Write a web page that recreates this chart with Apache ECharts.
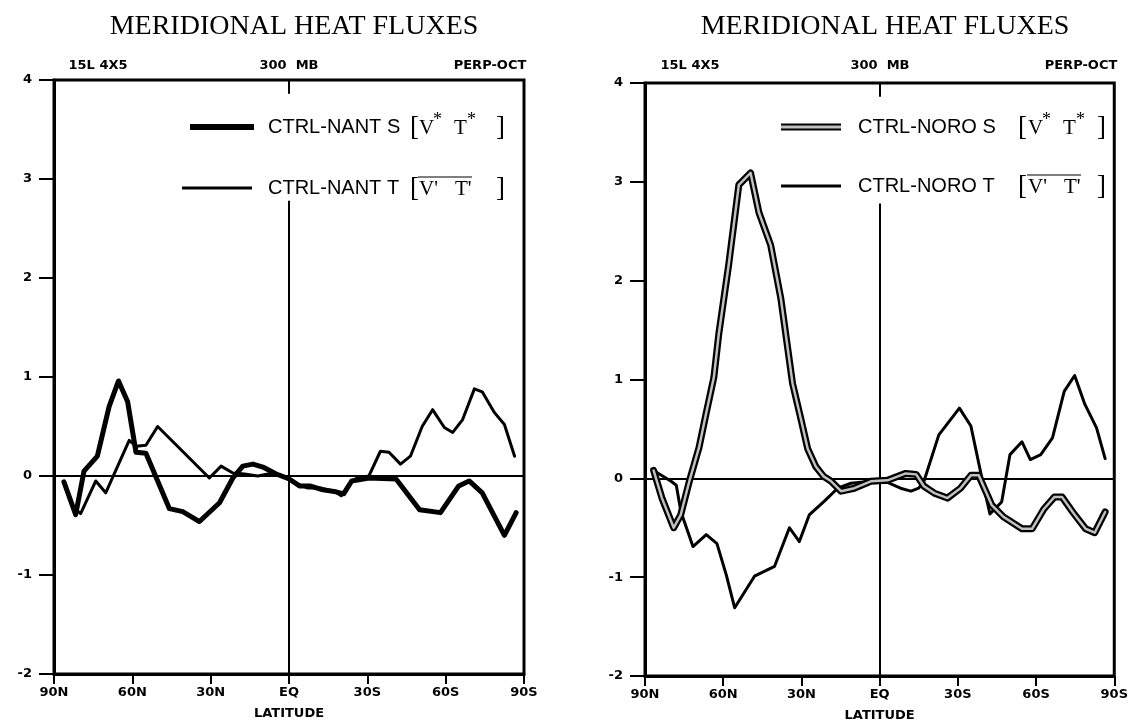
<!DOCTYPE html>
<html>
<head>
<meta charset="utf-8">
<script src="https://cdn.jsdelivr.net/npm/echarts@6/dist/echarts.min.js"></script>
<style>
  html, body { margin: 0; padding: 0; background: #fff; }
  #main { width: 1131px; height: 727px; }
</style>
</head>
<body>
<div id="main"></div>
<script>
// latitude ticks (value axis runs 90N -> 90S)
var latTicks = { 90: '90N', 60: '60N', 30: '30N', 0: 'EQ', '-30': '30S', '-60': '60S', '-90': '90S' };

// CTRL-NANT S [V*T*]  (thick)
var nantSLat = [86.2, 81.7, 78.5, 73.4, 68.9, 65.3, 61.8, 58.6, 54.8, 50.3, 45.8, 40.7, 34.3, 26.6, 21.5, 17.7, 13.8, 10, 4.9, -0.1,
    -4, -8, -13, -18, -21, -24, -30.6, -41, -50, -58, -65, -69, -74, -82.5, -87];
var nantSVal = [-0.06, -0.39, 0.05, 0.2, 0.7, 0.96, 0.75, 0.24, 0.23, -0.05, -0.33, -0.36, -0.46, -0.27, -0.02, 0.1, 0.12, 0.09, 0.02, -0.03,
    -0.1, -0.1, -0.14, -0.16, -0.18, -0.05, -0.02, -0.03, -0.34, -0.37, -0.1, -0.05, -0.17, -0.6, -0.37];

// CTRL-NANT T [V'T']  (thin)
var nantTLat = [82, 79.8, 74, 70.2, 61.2, 58.5, 54.8, 50.3, 30.5, 26, 21.5, 17, 12, 6, 2, -2, -7, -12, -17, -20, -23, -26, -30.6,
    -35, -38.3, -42.7, -46.5, -51, -55, -59.5, -62.7, -66.5, -71, -74, -78.7, -82.5, -86.4];
var nantTVal = [-0.33, -0.38, -0.05, -0.17, 0.36, 0.3, 0.31, 0.5, -0.02, 0.1, 0.03, 0.02, 0.0, 0.03, 0.0, -0.07, -0.12, -0.12, -0.15, -0.2, -0.08, -0.02, 0.0,
    0.25, 0.24, 0.12, 0.2, 0.5, 0.67, 0.49, 0.44, 0.57, 0.88, 0.85, 0.64, 0.52, 0.2];

// CTRL-NORO S [V*T*]  (hollow)
var noroSLat = [86.7, 83.5, 79, 76.3, 73, 69.3, 66.6, 63.6, 61.7, 57.9, 54, 49.5, 46.3, 41.8, 37.9, 33.4, 30.2, 27.6, 24.5, 21.5, 18.6, 14.8, 9.7, 3.4,
    -3, -10, -14, -17, -21, -26, -31, -35, -38, -43, -47.5, -54.6, -58.5, -63, -67, -70, -74.6, -79, -82.5, -86.5];
var noroSVal = [0.08, -0.2, -0.5, -0.37, -0.03, 0.31, 0.65, 1.02, 1.46, 2.16, 2.97, 3.09, 2.69, 2.36, 1.82, 0.96, 0.6, 0.3, 0.12, 0.02, -0.03, -0.13, -0.1, -0.03,
    -0.02, 0.05, 0.04, -0.08, -0.15, -0.2, -0.1, 0.03, 0.03, -0.27, -0.39, -0.51, -0.51, -0.31, -0.19, -0.19, -0.36, -0.51, -0.55, -0.34];

// CTRL-NORO T [V'T']  (thin)
var noroTLat = [86.7, 80, 78, 76.2, 71.6, 66.5, 62.4, 58.8, 55.6, 48, 40.3, 34.6, 30.8, 27, 21.2, 16.1, 11, 3.4,
    -3, -8, -12, -15, -17, -22.7, -30.6, -35, -39, -42.3, -46.8, -50, -54.6, -57.8, -61.8, -66.3, -70.8, -74.8, -78.7, -83.2, -86.5];
var noroTVal = [0.08, -0.03, -0.07, -0.34, -0.69, -0.57, -0.66, -0.98, -1.31, -0.99, -0.89, -0.5, -0.64, -0.37, -0.23, -0.1, -0.05, -0.03,
    -0.04, -0.1, -0.13, -0.1, -0.03, 0.44, 0.71, 0.53, 0.03, -0.36, -0.24, 0.24, 0.37, 0.19, 0.24, 0.41, 0.88, 1.04, 0.75, 0.51, 0.2];

function pairs(la, va) {
    return la.map(function (l, i) { return [l, va[i]]; });
}

(function () {
    var chartDom = document.getElementById('main');
    var myChart = echarts.init(chartDom);
    var option;

    var boldFont = { color: '#000', fontFamily: 'DejaVu Sans', fontWeight: 'bold', fontSize: 13 };

    function xAx(i) {
        return {
            gridIndex: i, type: 'value', min: -90, max: 90, interval: 30, inverse: true,
            axisLine: { show: true, onZero: false, lineStyle: { color: '#000', width: 3 } },
            axisTick: { show: true, length: 10, lineStyle: { color: '#000', width: 2 } },
            axisLabel: Object.assign({ margin: 12, formatter: function (v) { return latTicks[v]; } }, boldFont),
            splitLine: { show: false },
            name: 'LATITUDE', nameLocation: 'middle', nameGap: 33,
            nameTextStyle: boldFont
        };
    }
    function yAx(i) {
        return {
            gridIndex: i, type: 'value', min: -2, max: 4, interval: 1,
            axisLine: { show: true, onZero: false, lineStyle: { color: '#000', width: 3 } },
            axisTick: { show: true, length: 15, lineStyle: { color: '#000', width: 2 } },
            axisLabel: Object.assign({ margin: 22 }, boldFont),
            splitLine: { show: false }
        };
    }
    // zero line + equator line
    function refLines() {
        return {
            silent: true, symbol: 'none', label: { show: false },
            lineStyle: { color: '#000', width: 2, type: 'solid' },
            data: [
                { yAxis: 0 },
                [{ coord: [0, -2] }, { coord: [0, 2.78] }],
                [{ coord: [0, 4] }, { coord: [0, 3.86] }]
            ]
        };
    }
    function line(name, i, data, w, color, z, ml) {
        var s = {
            name: name, type: 'line', xAxisIndex: i, yAxisIndex: i, data: data,
            showSymbol: false, silent: true, z: z,
            lineStyle: { color: color, width: w, join: 'round', cap: 'round' }
        };
        if (ml) s.markLine = refLines();
        return s;
    }

    // legend rows drawn as graphics (superscripts / overline)
    function legendRow(lx, lw, y, tx, name, off, primed, sample) {
        var els = [];
        sample.forEach(function (s) {
            els.push({ type: 'line', z: 100, shape: { x1: lx, y1: y, x2: lx + lw, y2: y },
                style: { stroke: s[0], lineWidth: s[1] } });
        });
        var serif = '"Liberation Serif", serif';
        els.push({ type: 'text', x: tx, y: y, z: 100, style: { text: name, fontFamily: 'Liberation Sans', fontSize: 20, fill: '#000', verticalAlign: 'middle' } });
        els.push({ type: 'text', x: tx + off[0], y: y + 1, z: 100, style: { text: '[', fontFamily: serif, fontSize: 27, fill: '#000', verticalAlign: 'middle' } });
        els.push({ type: 'text', x: tx + off[3], y: y + 1, z: 100, style: { text: ']', fontFamily: serif, fontSize: 27, fill: '#000', verticalAlign: 'middle' } });
        if (primed) {
            els.push({ type: 'text', x: tx + off[1], y: y + 1, z: 100, style: { text: "V'", fontFamily: serif, fontSize: 21, fill: '#000', verticalAlign: 'middle' } });
            els.push({ type: 'text', x: tx + off[2], y: y + 1, z: 100, style: { text: "T'", fontFamily: serif, fontSize: 21, fill: '#000', verticalAlign: 'middle' } });
            els.push({ type: 'line', z: 100, shape: { x1: tx + off[1] - 1, y1: y - 11, x2: tx + off[2] + 17, y2: y - 11 }, style: { stroke: '#000', lineWidth: 1.2 } });
        } else {
            els.push({ type: 'text', x: tx + off[1], y: y + 1, z: 100, style: { text: 'V', fontFamily: serif, fontSize: 21, fill: '#000', verticalAlign: 'middle' } });
            els.push({ type: 'text', x: tx + off[1] + 14, y: y - 7, z: 100, style: { text: '*', fontFamily: serif, fontSize: 18, fill: '#000', verticalAlign: 'middle' } });
            els.push({ type: 'text', x: tx + off[2], y: y + 1, z: 100, style: { text: 'T', fontFamily: serif, fontSize: 21, fill: '#000', verticalAlign: 'middle' } });
            els.push({ type: 'text', x: tx + off[2] + 13, y: y - 7, z: 100, style: { text: '*', fontFamily: serif, fontSize: 18, fill: '#000', verticalAlign: 'middle' } });
        }
        return els;
    }
    function topText(x, y, t) {
        return { type: 'text', x: x, y: y, style: { text: t, fontFamily: 'DejaVu Sans', fontWeight: 'bold', fontSize: 13, fill: '#000', align: 'center', verticalAlign: 'middle' } };
    }

    var graphics = []
        .concat(legendRow(190, 64, 127, 268, 'CTRL-NANT S', [142, 151, 186, 228], false, [['#000', 6]]))
        .concat(legendRow(182, 70, 188, 268, 'CTRL-NANT T', [142, 151, 187, 228], true, [['#000', 3]]))
        .concat(legendRow(781, 60, 127, 858, 'CTRL-NORO S', [160, 170, 205, 239], false, [['#000', 7], ['#c0c0c0', 3]]))
        .concat(legendRow(781, 60, 186, 858, 'CTRL-NORO T', [160, 170, 206, 239], true, [['#000', 3]]))
        .concat([
            topText(98, 66, '15L 4X5'), topText(289, 66, '300  MB'), topText(490, 66, 'PERP-OCT'),
            topText(690, 66, '15L 4X5'), topText(880, 66, '300  MB'), topText(1081, 66, 'PERP-OCT')
        ]);

    option = {
        animation: false,
        backgroundColor: '#fff',
        title: [
            { text: 'MERIDIONAL HEAT FLUXES', left: 289, top: 8, textAlign: 'center',
              textStyle: { fontFamily: 'Liberation Serif', fontWeight: 'normal', fontSize: 28, color: '#000' } },
            { text: 'MERIDIONAL HEAT FLUXES', left: 880, top: 8, textAlign: 'center',
              textStyle: { fontFamily: 'Liberation Serif', fontWeight: 'normal', fontSize: 28, color: '#000' } }
        ],
        grid: [
            { left: 54, top: 80, width: 470, height: 594, show: true, borderColor: '#000', borderWidth: 3 },
            { left: 645, top: 83, width: 470, height: 596, show: true, borderColor: '#000', borderWidth: 3 }
        ],
        xAxis: [xAx(0), xAx(1)],
        yAxis: [yAx(0), yAx(1)],
        graphic: graphics,
        series: [
            line('CTRL-NANT T', 0, pairs(nantTLat, nantTVal), 3, '#000', 3, true),
            line('CTRL-NANT S', 0, pairs(nantSLat, nantSVal), 5, '#000', 4),
            line('CTRL-NORO T', 1, pairs(noroTLat, noroTVal), 3, '#000', 3, true),
            line('CTRL-NORO S', 1, pairs(noroSLat, noroSVal), 7, '#000', 4),
            line('CTRL-NORO S inner', 1, pairs(noroSLat, noroSVal), 2.5, '#c0c0c0', 5)
        ]
    };

    myChart.setOption(option);
    window.addEventListener("resize", function () {
        myChart.resize();
    });
})();
</script>
</body>
</html>
